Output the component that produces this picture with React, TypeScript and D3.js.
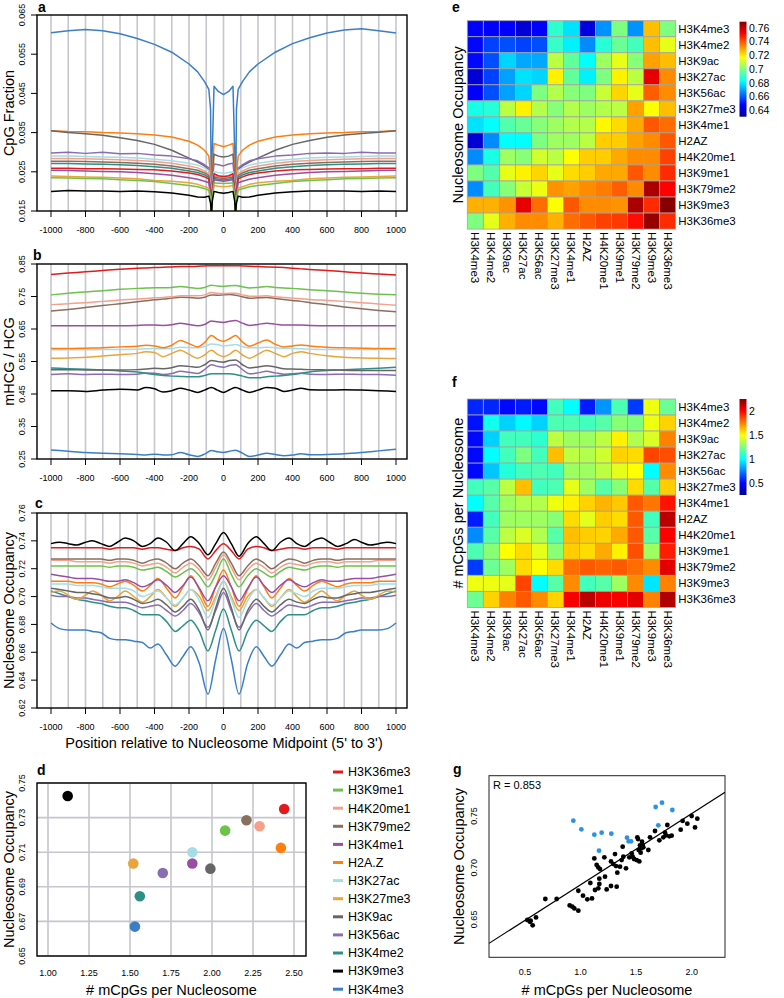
import React from "react";
import * as d3 from "d3";

const FONT = "'Liberation Sans', Arial, Helvetica, sans-serif";

// ---------- series names & colours (panels a-d) ----------
const MARKS = ["H3K36me3","H3K9me1","H4K20me1","H3K79me2","H3K4me1","H2A.Z","H3K27ac","H3K27me3","H3K9ac","H3K56ac","H3K4me2","H3K9me3","H3K4me3"];
const MARK_COLORS = ["#e31a1c","#6cc24a","#f4a08a","#8b6f5e","#984ea3","#ff7f0e","#a5dde6","#eaa43a","#666666","#8a6db1","#2e8f86","#000000","#3a7fc6"];

// ---------- panel a: CpG fraction ----------
const A_POS = [-1000,-900,-800,-700,-600,-500,-400,-300,-200,-150,-110,-85,-75,-70,-65,-55,-30,0,30,55,65,70,75,85,110,150,200,300,400,500,600,700,800,900,1000];
const A_H3K4me3 = [.0605,.0610,.0613,.0610,.0602,.0590,.0575,.0555,.0525,.0505,.0480,.0460,.0410,.0160,.0300,.0468,.0455,.0447,.0455,.0468,.0300,.0160,.0410,.0460,.0480,.0505,.0525,.0555,.0577,.0592,.0604,.0612,.0615,.0610,.0604];
const A_H2AZ = [.0355,.0353,.0352,.0350,.0349,.0347,.0344,.0339,.0328,.0318,.0305,.0290,.0240,.0140,.0250,.0322,.0318,.0314,.0318,.0322,.0250,.0140,.0240,.0290,.0305,.0318,.0328,.0339,.0344,.0347,.0349,.0350,.0352,.0353,.0355];
const A_H3K9ac = [.0355,.0350,.0347,.0343,.0337,.0330,.0320,.0305,.0285,.0275,.0265,.0255,.0220,.0140,.0230,.0295,.0290,.0288,.0290,.0295,.0230,.0140,.0220,.0255,.0265,.0275,.0285,.0305,.0320,.0330,.0338,.0344,.0348,.0351,.0355];
const A_H3K56ac = [.0298,.0300,.0297,.0300,.0296,.0297,.0293,.0290,.0283,.0278,.0268,.0260,.0220,.0140,.0225,.0270,.0268,.0265,.0270,.0272,.0225,.0140,.0220,.0260,.0268,.0278,.0283,.0290,.0293,.0297,.0298,.0297,.0300,.0298,.0298];
const A_H3K27ac = [.0290,.0290,.0289,.0288,.0287,.0285,.0282,.0278,.0272,.0267,.0260,.0253,.0210,.0140,.0215,.0250,.0248,.0246,.0248,.0250,.0215,.0140,.0210,.0253,.0260,.0267,.0272,.0278,.0282,.0285,.0287,.0288,.0289,.0290,.0290];
const A_H4K20me1 = [.0284,.0284,.0283,.0282,.0281,.0279,.0276,.0272,.0265,.0260,.0252,.0245,.0205,.0140,.0210,.0240,.0238,.0236,.0238,.0240,.0210,.0140,.0205,.0245,.0252,.0260,.0265,.0272,.0276,.0279,.0281,.0282,.0283,.0284,.0284];
const A_H3K79me2 = [.0277,.0277,.0276,.0275,.0274,.0272,.0269,.0265,.0258,.0254,.0247,.0240,.0200,.0140,.0205,.0237,.0235,.0233,.0235,.0237,.0205,.0140,.0200,.0240,.0247,.0254,.0258,.0265,.0269,.0272,.0274,.0275,.0276,.0277,.0277];
const A_H3K4me2 = [.0271,.0271,.0270,.0269,.0268,.0266,.0263,.0259,.0252,.0248,.0242,.0236,.0198,.0140,.0202,.0233,.0231,.0229,.0231,.0233,.0202,.0140,.0198,.0236,.0242,.0248,.0252,.0259,.0263,.0266,.0268,.0269,.0270,.0271,.0271];
const A_H3K36me3 = [.0259,.0259,.0258,.0258,.0257,.0256,.0255,.0252,.0247,.0243,.0237,.0232,.0195,.0140,.0200,.0245,.0240,.0238,.0240,.0245,.0200,.0140,.0195,.0232,.0237,.0243,.0247,.0252,.0255,.0256,.0257,.0258,.0258,.0259,.0259];
const A_H3K4me1 = [.0254,.0253,.0252,.0251,.0250,.0248,.0245,.0241,.0235,.0231,.0226,.0222,.0190,.0140,.0195,.0230,.0228,.0226,.0228,.0230,.0195,.0140,.0190,.0222,.0226,.0231,.0235,.0241,.0245,.0248,.0250,.0251,.0252,.0253,.0254];
const A_H3K27me3 = [.0239,.0238,.0237,.0236,.0234,.0232,.0228,.0226,.0222,.0218,.0212,.0208,.0180,.0140,.0185,.0215,.0213,.0212,.0213,.0215,.0185,.0140,.0180,.0208,.0212,.0218,.0222,.0226,.0228,.0232,.0234,.0236,.0237,.0238,.0239];
const A_H3K9me1 = [.0235,.0234,.0233,.0232,.0230,.0228,.0225,.0220,.0215,.0212,.0207,.0203,.0175,.0140,.0180,.0222,.0221,.0220,.0221,.0222,.0180,.0140,.0175,.0203,.0207,.0212,.0215,.0220,.0225,.0228,.0230,.0232,.0233,.0234,.0235];
const A_H3K9me3 = [.0200,.0202,.0201,.0201,.0200,.0201,.0199,.0196,.0190,.0186,.0185,.0188,.0170,.0140,.0175,.0200,.0197,.0195,.0197,.0200,.0175,.0140,.0170,.0188,.0185,.0186,.0190,.0196,.0199,.0201,.0201,.0201,.0200,.0201,.0200];
const A_YTICKS = [0.015,0.025,0.035,0.045,0.055,0.065];

// ---------- panel b: mHCG / HCG ----------
const B_POS = [-1000,-900,-800,-700,-600,-500,-450,-400,-350,-300,-250,-200,-150,-110,-70,-35,0,35,70,110,150,200,250,300,350,400,450,500,600,700,800,900,1000];
const B_H3K36me3 = [.818,.822,.826,.830,.834,.837,.838,.839,.840,.841,.842,.842,.843,.844,.845,.845,.845,.845,.845,.844,.843,.842,.841,.840,.839,.837,.835,.833,.830,.826,.822,.819,.816];
const B_H3K9me1 = [.755,.760,.764,.768,.772,.775,.776,.777,.777,.778,.781,.778,.775,.778,.785,.782,.781,.783,.784,.780,.776,.778,.781,.778,.776,.775,.773,.771,.768,.764,.760,.757,.755];
const B_H4K20me1 = [.725,.728,.731,.735,.739,.742,.744,.746,.747,.749,.752,.752,.752,.755,.762,.760,.759,.760,.760,.755,.751,.751,.752,.749,.747,.745,.743,.741,.738,.735,.731,.727,.723];
const B_H3K79me2 = [.705,.710,.716,.722,.728,.734,.737,.740,.742,.745,.748,.747,.745,.748,.755,.754,.755,.756,.754,.749,.745,.746,.747,.744,.741,.738,.735,.731,.725,.718,.712,.707,.703];
const B_H3K4me1 = [.660,.660,.660,.660,.660,.661,.662,.662,.661,.663,.668,.664,.660,.664,.675,.672,.670,.674,.676,.668,.661,.664,.668,.665,.662,.662,.662,.661,.660,.660,.660,.660,.660];
const B_H2AZ = [.590,.590,.591,.592,.595,.597,.600,.598,.592,.600,.615,.605,.595,.608,.630,.618,.612,.620,.630,.610,.597,.607,.616,.603,.595,.598,.601,.598,.594,.592,.591,.590,.590];
const B_H3K27ac = [.586,.586,.586,.587,.587,.588,.589,.590,.589,.590,.594,.593,.592,.596,.604,.602,.598,.600,.602,.596,.592,.592,.594,.592,.590,.590,.589,.588,.587,.587,.587,.587,.587];
const B_H3K27me3 = [.560,.561,.563,.567,.571,.575,.580,.578,.565,.575,.585,.572,.560,.570,.585,.572,.565,.572,.585,.570,.560,.572,.585,.575,.565,.575,.580,.575,.568,.563,.561,.560,.559];
const B_H3K9ac = [.525,.525,.524,.524,.524,.525,.527,.529,.528,.531,.537,.535,.532,.540,.553,.550,.548,.553,.555,.540,.530,.533,.537,.533,.528,.527,.526,.525,.524,.523,.522,.522,.522];
const B_H3K56ac = [.510,.512,.510,.511,.510,.511,.515,.514,.510,.513,.520,.517,.513,.525,.540,.535,.532,.538,.540,.525,.512,.515,.520,.515,.511,.512,.514,.511,.510,.511,.510,.510,.508];
const B_H3K4me2 = [.530,.528,.526,.524,.521,.518,.514,.510,.507,.505,.504,.503,.503,.507,.512,.512,.512,.512,.510,.505,.500,.500,.503,.505,.507,.510,.514,.518,.522,.525,.527,.529,.532];
const B_H3K9me3 = [.460,.460,.458,.462,.465,.462,.470,.466,.456,.460,.468,.462,.455,.462,.470,.462,.455,.463,.470,.462,.455,.462,.470,.468,.458,.462,.468,.463,.462,.463,.462,.460,.458];
const B_H3K4me3 = [.278,.274,.270,.268,.266,.264,.262,.265,.262,.263,.270,.263,.258,.265,.276,.272,.270,.274,.277,.268,.258,.262,.268,.264,.260,.262,.266,.263,.264,.266,.270,.275,.280];
const B_YTICKS = [0.25,0.35,0.45,0.55,0.65,0.75,0.85];

// ---------- panel c: nucleosome occupancy profile ----------
const C_POS = [-1000,-950,-900,-850,-800,-760,-710,-660,-615,-570,-520,-470,-425,-380,-330,-280,-235,-190,-140,-90,-45,0,45,90,140,190,235,280,330,380,425,470,520,570,615,660,710,760,800,850,900,950,1000];
const C_H3K9me3 = [.738,.739,.738,.737,.739,.740,.738,.736,.739,.742,.740,.736,.738,.742,.739,.733,.738,.743,.738,.730,.738,.746,.738,.729,.738,.743,.738,.733,.739,.742,.738,.736,.740,.742,.739,.736,.738,.741,.739,.737,.738,.739,.738];
const C_H3K36me3 = [.735,.735,.735,.735,.735,.735,.735,.734,.735,.735,.735,.734,.735,.735,.734,.733,.735,.736,.734,.727,.733,.738,.733,.727,.734,.736,.735,.733,.734,.735,.735,.734,.735,.735,.735,.734,.735,.735,.735,.735,.735,.735,.735];
const C_H3K79me2 = [.727,.727,.727,.727,.727,.727,.727,.726,.727,.727,.726,.724,.726,.727,.724,.720,.724,.727,.722,.715,.724,.732,.724,.715,.722,.727,.724,.720,.724,.727,.726,.724,.726,.727,.727,.726,.727,.727,.727,.727,.727,.727,.727];
const C_H4K20me1 = [.726,.726,.726,.725,.725,.725,.725,.724,.725,.725,.724,.722,.723,.724,.721,.717,.721,.724,.719,.712,.721,.730,.721,.712,.719,.724,.721,.717,.721,.724,.723,.722,.724,.725,.725,.724,.725,.725,.725,.725,.726,.726,.726];
const C_H3K9me1 = [.722,.722,.722,.722,.722,.722,.722,.721,.722,.722,.721,.719,.720,.721,.718,.714,.717,.720,.715,.707,.716,.727,.716,.707,.715,.720,.717,.714,.718,.721,.720,.719,.721,.722,.722,.721,.722,.722,.722,.722,.722,.722,.722];
const C_H3K4me1 = [.716,.715,.714,.713,.713,.713,.712,.711,.711,.712,.710,.707,.709,.712,.708,.703,.708,.714,.706,.697,.707,.715,.707,.697,.706,.714,.708,.703,.708,.712,.709,.707,.710,.712,.711,.711,.712,.713,.713,.713,.714,.715,.716];
const C_H2AZ = [.711,.711,.711,.710,.710,.710,.709,.707,.709,.711,.708,.704,.708,.713,.706,.699,.707,.715,.705,.693,.707,.719,.707,.693,.705,.715,.707,.699,.706,.713,.708,.704,.708,.711,.709,.707,.709,.710,.710,.710,.711,.711,.711];
const C_H3K27ac = [.709,.709,.709,.708,.708,.708,.707,.706,.706,.706,.704,.700,.702,.704,.699,.694,.699,.705,.697,.685,.698,.711,.698,.685,.697,.705,.699,.694,.699,.704,.702,.700,.704,.706,.706,.706,.707,.708,.708,.708,.709,.709,.709];
const C_H3K9ac = [.706,.705,.704,.703,.703,.702,.701,.699,.699,.700,.698,.695,.696,.698,.694,.689,.693,.698,.690,.676,.692,.706,.692,.676,.690,.698,.693,.689,.694,.698,.696,.695,.698,.700,.699,.699,.701,.702,.703,.703,.704,.705,.706];
const C_H3K27me3 = [.703,.704,.701,.698,.701,.704,.701,.697,.700,.704,.700,.696,.700,.705,.699,.693,.699,.705,.700,.690,.700,.711,.700,.690,.700,.705,.699,.693,.699,.705,.700,.696,.700,.704,.700,.697,.701,.704,.701,.698,.701,.704,.703];
const C_H3K56ac = [.701,.700,.700,.699,.699,.698,.697,.696,.696,.696,.694,.692,.693,.694,.690,.686,.690,.695,.688,.678,.690,.703,.690,.678,.688,.695,.690,.686,.690,.694,.693,.692,.694,.696,.696,.696,.697,.698,.699,.699,.700,.700,.701];
const C_H3K4me2 = [.704,.702,.700,.698,.697,.696,.695,.693,.692,.692,.690,.687,.687,.687,.682,.675,.679,.683,.675,.661,.676,.691,.676,.661,.675,.683,.679,.675,.682,.687,.687,.687,.690,.692,.692,.693,.695,.696,.697,.698,.700,.702,.704];
const C_H3K4me3 = [.681,.677,.676,.676,.676,.675,.674,.670,.669,.669,.668,.667,.663,.666,.658,.650,.657,.664,.652,.630,.655,.677,.655,.630,.652,.664,.657,.650,.658,.666,.663,.667,.668,.669,.669,.670,.674,.675,.676,.676,.676,.677,.681];
const C_YTICKS = [0.62,0.64,0.66,0.68,0.70,0.72,0.74,0.76];

const X_TICKS = [-1000,-800,-600,-400,-200,0,200,400,600,800,1000];
const X_GRID = d3.range(-1000, 1001, 100);

// ---------- panel d ----------
const D_MCPG = [2.44,2.08,2.29,2.21,1.88,2.42,1.88,1.52,1.99,1.70,1.56,1.12,1.53];
const D_OCC = [0.735,0.7225,0.725,0.7285,0.7035,0.7125,0.710,0.7035,0.7005,0.698,0.6845,0.7425,0.667];
const D_XTICKS = [1.00,1.25,1.50,1.75,2.00,2.25,2.50];
const D_YTICKS = [0.65,0.67,0.69,0.71,0.73,0.75];

// ---------- panels e, f: heatmaps ----------
const HM_LABELS = ["H3K4me3","H3K4me2","H3K9ac","H3K27ac","H3K56ac","H3K27me3","H3K4me1","H2AZ","H4K20me1","H3K9me1","H3K79me2","H3K9me3","H3K36me3"];
const E_VALUES = [
  [0.648,0.648,0.648,0.642,0.648,0.689,0.679,0.643,0.668,0.700,0.668,0.726,0.700],
  [0.649,0.657,0.659,0.657,0.659,0.690,0.681,0.667,0.688,0.697,0.692,0.726,0.714],
  [0.649,0.659,0.677,0.671,0.671,0.708,0.696,0.683,0.704,0.714,0.701,0.730,0.726],
  [0.642,0.657,0.670,0.679,0.677,0.719,0.696,0.681,0.700,0.719,0.708,0.755,0.733],
  [0.648,0.659,0.670,0.677,0.700,0.707,0.701,0.700,0.710,0.723,0.714,0.739,0.733],
  [0.686,0.688,0.708,0.719,0.707,0.701,0.707,0.704,0.707,0.708,0.730,0.717,0.726],
  [0.679,0.683,0.694,0.697,0.701,0.704,0.707,0.707,0.718,0.722,0.729,0.740,0.737],
  [0.642,0.667,0.683,0.683,0.700,0.704,0.704,0.708,0.724,0.724,0.730,0.733,0.740],
  [0.667,0.686,0.704,0.701,0.711,0.708,0.717,0.724,0.724,0.729,0.733,0.733,0.743],
  [0.700,0.694,0.714,0.719,0.723,0.714,0.722,0.724,0.729,0.729,0.740,0.733,0.746],
  [0.667,0.692,0.701,0.710,0.715,0.732,0.730,0.733,0.735,0.739,0.733,0.763,0.752],
  [0.728,0.728,0.732,0.755,0.737,0.717,0.740,0.733,0.733,0.732,0.763,0.746,0.768],
  [0.700,0.714,0.728,0.733,0.733,0.728,0.737,0.740,0.743,0.744,0.750,0.766,0.746],
];
const E_RANGE = [0.631, 0.769];
const E_TICKS = [0.64,0.66,0.68,0.70,0.72,0.74,0.76];
const E_TICK_LABELS = ["0.64","0.66","0.68","0.7","0.72","0.74","0.76"];

const F_VALUES = [
  [0.58,0.58,0.52,0.56,0.52,1.14,1.01,0.56,0.80,1.16,0.62,1.48,1.22],
  [0.54,1.04,0.92,1.00,0.92,1.16,1.16,1.14,1.18,1.28,1.26,1.48,1.60],
  [0.52,0.92,1.14,1.14,1.10,1.38,1.32,1.32,1.38,1.54,1.36,1.44,1.76],
  [0.52,1.01,1.14,1.26,1.14,1.64,1.38,1.36,1.42,1.60,1.58,1.88,1.86],
  [0.52,0.90,1.08,1.14,1.16,1.14,1.32,1.32,1.38,1.46,1.51,1.01,1.74],
  [1.14,1.18,1.38,1.64,1.14,1.16,1.46,1.32,1.18,1.28,1.58,1.18,1.61],
  [1.01,1.18,1.32,1.36,1.36,1.48,1.54,1.60,1.66,1.62,1.84,1.78,1.98],
  [0.56,1.14,1.32,1.32,1.32,1.28,1.58,1.46,1.61,1.58,1.84,1.14,2.15],
  [0.78,1.18,1.38,1.44,1.36,1.18,1.64,1.61,1.60,1.68,1.84,1.18,2.02],
  [1.16,1.28,1.51,1.58,1.46,1.28,1.61,1.58,1.68,1.54,1.86,1.32,1.96],
  [0.62,1.22,1.32,1.58,1.51,1.58,1.80,1.84,1.82,1.84,1.80,1.74,2.07],
  [1.48,1.48,1.46,1.88,1.01,1.18,1.74,1.14,1.18,1.32,1.74,0.96,1.76],
  [1.22,1.60,1.76,1.84,1.74,1.60,2.03,2.15,2.05,2.03,2.07,1.76,2.17],
];
const F_RANGE = [0.255, 2.266];
const F_TICKS = [0.5,1,1.5,2];
const F_TICK_LABELS = ["0.5","1","1.5","2"];

// ---------- panel g ----------
const G_BLACK_X = [0.521,0.545,0.551,0.569,0.599,0.683,0.785,0.902,0.926,0.944,0.980,0.980,1.022,1.061,1.103,1.088,1.124,1.130,1.145,1.160,1.175,1.160,1.169,1.169,1.214,1.220,1.235,1.274,1.274,1.295,1.310,1.319,1.325,1.331,1.355,1.370,1.385,1.379,1.409,1.439,1.460,1.469,1.481,1.505,1.511,1.517,1.523,1.529,1.535,1.541,1.547,1.553,1.559,1.565,1.610,1.625,1.670,1.709,1.745,1.760,1.769,1.781,1.799,1.820,1.901,1.919,1.961,2.000,2.030,2.051];
const G_BLACK_Y = [0.6494,0.6477,0.6487,0.6442,0.6519,0.6697,0.6697,0.6635,0.6623,0.6606,0.6584,0.6777,0.6729,0.6694,0.6703,0.6852,0.7090,0.6784,0.7026,0.7003,0.6987,0.6800,0.6842,0.6894,0.7100,0.6913,0.6790,0.6823,0.7061,0.7035,0.7132,0.7016,0.6816,0.6952,0.7010,0.7074,0.7106,0.7203,0.6994,0.7100,0.7139,0.7106,0.7084,0.7074,0.7294,0.7277,0.7171,0.7061,0.7216,0.7145,0.7187,0.7252,0.7219,0.7197,0.7171,0.7294,0.7355,0.7265,0.7294,0.7339,0.7313,0.7413,0.7303,0.7310,0.7368,0.7452,0.7426,0.7500,0.7390,0.7474];
const G_BLUE_X = [0.935,1.007,1.124,1.190,1.277,1.166,1.418,1.433,1.454,1.676,1.733,1.700,1.826];
const G_BLUE_Y = [0.7455,0.7371,0.7319,0.7339,0.7329,0.7165,0.7290,0.7255,0.7255,0.7587,0.7629,0.7410,0.7558];
const G_FIT_INTERCEPT = 0.6147;
const G_FIT_SLOPE = 0.0688;
const G_R = 0.853;
const G_XTICKS = [0.5,1.0,1.5,2.0];
const G_YTICKS = [0.65,0.70,0.75];

// ---------- helpers ----------
const jet = d3.scaleLinear<string>()
  .domain([0, 0.125, 0.375, 0.625, 0.875, 1])
  .range(["#00008f", "#0000ff", "#00ffff", "#ffff00", "#ff0000", "#800000"])
  .interpolate(d3.interpolateRgb)
  .clamp(true);

type LPProps = {
  id: string; top: number; bottom: number; yDomain: [number, number]; yTicks: number[]; fmt: string;
  pos: number[]; series: number[][]; colors: string[]; letter: string; letterX: number; letterY: number;
  ylabel: string; curve: d3.CurveFactory;
};

function LinePanel(p: LPProps) {
  const L = 37, R = 407;
  const x = d3.scaleLinear().domain([-1000, 1000]).range([51, 396]);
  const y = d3.scaleLinear().domain(p.yDomain).range([p.bottom, p.top]);
  const fmt = d3.format(p.fmt);
  const line = d3.line<number>().x((_, i) => x(p.pos[i])).y((d) => y(d)).curve(p.curve);
  const clip = `clip-${p.id}`;
  const midY = (p.top + p.bottom) / 2;
  return (
    <g>
      <defs>
        <clipPath id={clip}><rect x={L} y={p.top} width={R - L} height={p.bottom - p.top} /></clipPath>
      </defs>
      {X_GRID.map((g) => (
        <line key={g} x1={x(g)} x2={x(g)} y1={p.top} y2={p.bottom} stroke="#c6c6ce" strokeWidth={1.6} />
      ))}
      <g clipPath={`url(#${clip})`}>
        {p.series.map((s, i) => (
          <path key={i} d={line(s) || ""} fill="none" stroke={p.colors[i]} strokeWidth={1.5} strokeLinejoin="round" />
        ))}
      </g>
      <rect x={L} y={p.top} width={R - L} height={p.bottom - p.top} fill="none" stroke="#000" strokeWidth={1.4} />
      {X_TICKS.map((t) => (
        <g key={t}>
          <line x1={x(t)} x2={x(t)} y1={p.bottom} y2={p.bottom + 6} stroke="#000" strokeWidth={1} />
          <text x={x(t)} y={p.bottom + 22} fontSize={9} textAnchor="middle" fontFamily={FONT}>{t}</text>
        </g>
      ))}
      {p.yTicks.map((t) => (
        <g key={t}>
          <line x1={L - 6} x2={L} y1={y(t)} y2={y(t)} stroke="#000" strokeWidth={1} />
          <text transform={`translate(22,${y(t)}) rotate(-90)`} dy="0.35em" fontSize={9} textAnchor="middle" fontFamily={FONT}>{fmt(t)}</text>
        </g>
      ))}
      <text transform={`translate(9,${midY}) rotate(-90)`} dy="0.35em" fontSize={14.5} textAnchor="middle" fontFamily={FONT}>{p.ylabel}</text>
      <text x={p.letterX} y={p.letterY} fontSize={14} fontWeight="bold" fontFamily={FONT}>{p.letter}</text>
    </g>
  );
}

type HMProps = {
  id: string; top: number; values: number[][]; range: number[]; ticks: number[]; tickLabels: string[];
  barTop: number; barBottom: number; ylabel: string; letter: string; letterY: number;
};

function Heatmap(p: HMProps) {
  const left = 467.3, cell = 16.03;
  const n = HM_LABELS.length;
  const xb = d3.scaleBand<number>().domain(d3.range(n)).range([left, left + cell * n]);
  const yb = d3.scaleBand<number>().domain(d3.range(n)).range([p.top, p.top + cell * n]);
  const norm = d3.scaleLinear().domain(p.range).range([0, 1]);
  const barY = d3.scaleLinear().domain(p.range).range([p.barBottom, p.barTop]);
  const gid = `grad-${p.id}`;
  const stops = [0, 0.125, 0.375, 0.625, 0.875, 1];
  const gridBottom = p.top + cell * n;
  return (
    <g>
      <defs>
        <linearGradient id={gid} x1="0" y1="1" x2="0" y2="0">
          {stops.map((s) => <stop key={s} offset={s} stopColor={jet(s)} />)}
        </linearGradient>
      </defs>
      {p.values.map((row, r) =>
        row.map((v, c) => (
          <rect key={`${r}-${c}`} x={xb(c)} y={yb(r)} width={xb.bandwidth()} height={yb.bandwidth()}
            fill={jet(norm(v))} stroke="#a3a3a3" strokeWidth={0.8} />
        ))
      )}
      {HM_LABELS.map((lab, r) => (
        <text key={`r${lab}`} x={left + cell * n + 2.5} y={(yb(r) || 0) + cell / 2} dy="0.35em" fontSize={11.5} fontFamily={FONT}>{lab}</text>
      ))}
      {HM_LABELS.map((lab, c) => (
        <text key={`c${lab}`} transform={`translate(${(xb(c) || 0) + cell / 2},${gridBottom + 3}) rotate(90)`} dy="0.35em" fontSize={11.5} fontFamily={FONT}>{lab}</text>
      ))}
      <rect x={739.5} y={p.barTop} width={7} height={p.barBottom - p.barTop} fill={`url(#${gid})`} />
      {p.ticks.map((t, i) => (
        <text key={t} x={749} y={barY(t)} dy="0.35em" fontSize={10.5} fontFamily={FONT}>{p.tickLabels[i]}</text>
      ))}
      <text transform={`translate(458,${(p.top + gridBottom) / 2}) rotate(-90)`} dy="0.35em" fontSize={14.5} textAnchor="middle" fontFamily={FONT}>{p.ylabel}</text>
      <text x={452} y={p.letterY} fontSize={14} fontWeight="bold" fontFamily={FONT}>{p.letter}</text>
    </g>
  );
}

function PanelD() {
  const L = 37, R = 306, T = 783, B = 956;
  const x = d3.scaleLinear().domain([1, 2.5]).range([48, 294]);
  const y = d3.scaleLinear().domain([0.65, 0.75]).range([B, T]);
  const f2 = d3.format(".2f");
  return (
    <g>
      {D_XTICKS.map((t) => <line key={`gx${t}`} x1={x(t)} x2={x(t)} y1={T} y2={B} stroke="#c6c6ce" strokeWidth={1.6} />)}
      {D_YTICKS.map((t) => <line key={`gy${t}`} x1={L} x2={R} y1={y(t)} y2={y(t)} stroke="#c6c6ce" strokeWidth={1.6} />)}
      {D_MCPG.map((v, i) => (
        <circle key={i} cx={x(v)} cy={y(D_OCC[i])} r={5.3} fill={MARK_COLORS[i]} />
      ))}
      <rect x={L} y={T} width={R - L} height={B - T} fill="none" stroke="#000" strokeWidth={1.4} />
      {D_XTICKS.map((t) => (
        <text key={`tx${t}`} x={x(t)} y={B + 20} fontSize={9} textAnchor="middle" fontFamily={FONT}>{f2(t)}</text>
      ))}
      {D_YTICKS.map((t) => (
        <text key={`ty${t}`} transform={`translate(22,${y(t)}) rotate(-90)`} dy="0.35em" fontSize={9} textAnchor="middle" fontFamily={FONT}>{f2(t)}</text>
      ))}
      <text x={(L + R) / 2} y={995} fontSize={14.5} textAnchor="middle" fontFamily={FONT}># mCpGs per Nucleosome</text>
      <text transform={`translate(9,${(T + B) / 2}) rotate(-90)`} dy="0.35em" fontSize={14.5} textAnchor="middle" fontFamily={FONT}>Nucleosome Occupancy</text>
      <text x={37} y={775} fontSize={14} fontWeight="bold" fontFamily={FONT}>d</text>
      {MARKS.map((m, i) => {
        const ly = 772 + i * 18.1;
        return (
          <g key={m}>
            <line x1={333} x2={343} y1={ly} y2={ly} stroke={MARK_COLORS[i]} strokeWidth={3} />
            <text x={348} y={ly} dy="0.35em" fontSize={12.5} fontFamily={FONT}>{m}</text>
          </g>
        );
      })}
    </g>
  );
}

function PanelG() {
  const L = 489, R = 725, T = 775.7, B = 957.3;
  const x = d3.scaleLinear().domain([0.176, 2.30]).range([L, R]);
  const y = d3.scaleLinear().domain([0.6133, 0.789]).range([B, T]);
  const xd = x.domain();
  return (
    <g>
      <defs>
        <clipPath id="clip-g"><rect x={L} y={T} width={R - L} height={B - T} /></clipPath>
      </defs>
      <rect x={L} y={T} width={R - L} height={B - T} fill="none" stroke="#222" strokeWidth={1} />
      <g clipPath="url(#clip-g)">
        <line x1={x(xd[0])} y1={y(G_FIT_INTERCEPT + G_FIT_SLOPE * xd[0])} x2={x(xd[1])} y2={y(G_FIT_INTERCEPT + G_FIT_SLOPE * xd[1])} stroke="#000" strokeWidth={1.2} />
      </g>
      {G_BLUE_X.map((v, i) => <circle key={`b${i}`} cx={x(v)} cy={y(G_BLUE_Y[i])} r={2.4} fill="#2b93e3" />)}
      {G_BLACK_X.map((v, i) => <circle key={`k${i}`} cx={x(v)} cy={y(G_BLACK_Y[i])} r={2.4} fill="#000" />)}
      {G_XTICKS.map((t) => (
        <text key={`x${t}`} x={x(t)} y={975} fontSize={9} textAnchor="middle" fontFamily={FONT}>{d3.format(".1f")(t)}</text>
      ))}
      {G_YTICKS.map((t) => (
        <text key={`y${t}`} transform={`translate(474,${y(t)}) rotate(-90)`} dy="0.35em" fontSize={9} textAnchor="middle" fontFamily={FONT}>{d3.format(".2f")(t)}</text>
      ))}
      <text x={493} y={789} fontSize={11} fontFamily={FONT}>{`R = ${G_R}`}</text>
      <text x={(L + R) / 2} y={995} fontSize={14.5} textAnchor="middle" fontFamily={FONT}># mCpGs per Nucleosome</text>
      <text transform={`translate(459,${(T + B) / 2}) rotate(-90)`} dy="0.35em" fontSize={14.5} textAnchor="middle" fontFamily={FONT}>Nucleosome Occupancy</text>
      <text x={453} y={774} fontSize={14} fontWeight="bold" fontFamily={FONT}>g</text>
    </g>
  );
}

export default function App() {
  const aSeries = [A_H3K4me3, A_H2AZ, A_H3K9ac, A_H3K56ac, A_H3K27ac, A_H4K20me1, A_H3K79me2, A_H3K4me2, A_H3K36me3, A_H3K4me1, A_H3K27me3, A_H3K9me1, A_H3K9me3];
  const aNames = ["H3K4me3","H2A.Z","H3K9ac","H3K56ac","H3K27ac","H4K20me1","H3K79me2","H3K4me2","H3K36me3","H3K4me1","H3K27me3","H3K9me1","H3K9me3"];
  const bSeries = [B_H3K4me3, B_H3K9me3, B_H3K56ac, B_H3K4me2, B_H3K9ac, B_H3K27me3, B_H3K27ac, B_H2AZ, B_H3K4me1, B_H3K79me2, B_H4K20me1, B_H3K9me1, B_H3K36me3];
  const bNames = ["H3K4me3","H3K9me3","H3K56ac","H3K4me2","H3K9ac","H3K27me3","H3K27ac","H2A.Z","H3K4me1","H3K79me2","H4K20me1","H3K9me1","H3K36me3"];
  const cSeries = [C_H3K4me3, C_H3K4me2, C_H3K56ac, C_H3K27me3, C_H3K9ac, C_H3K27ac, C_H2AZ, C_H3K4me1, C_H3K9me1, C_H4K20me1, C_H3K79me2, C_H3K36me3, C_H3K9me3];
  const cNames = ["H3K4me3","H3K4me2","H3K56ac","H3K27me3","H3K9ac","H3K27ac","H2A.Z","H3K4me1","H3K9me1","H4K20me1","H3K79me2","H3K36me3","H3K9me3"];
  const colorOf = (n: string) => MARK_COLORS[MARKS.indexOf(n)];
  return (
    <svg width={784} height={998} style={{ position: "absolute", left: 0, top: 0, background: "#fff" }} fontFamily={FONT}>
      <rect width={784} height={998} fill="#fff" />
      <LinePanel id="a" top={15} bottom={211} yDomain={[0.015, 0.065]} yTicks={A_YTICKS} fmt=".3f" pos={A_POS}
        series={aSeries} colors={aNames.map(colorOf)} letter="a" letterX={38} letterY={12} ylabel="CpG Fraction" curve={d3.curveLinear} />
      <LinePanel id="b" top={264} bottom={459} yDomain={[0.25, 0.85]} yTicks={B_YTICKS} fmt=".2f" pos={B_POS}
        series={bSeries} colors={bNames.map(colorOf)} letter="b" letterX={33} letterY={260} ylabel="mHCG / HCG" curve={d3.curveMonotoneX} />
      <LinePanel id="c" top={513} bottom={708} yDomain={[0.62, 0.76]} yTicks={C_YTICKS} fmt=".2f" pos={C_POS}
        series={cSeries} colors={cNames.map(colorOf)} letter="c" letterX={35} letterY={508} ylabel="Nucleosome Occupancy" curve={d3.curveMonotoneX} />
      <text x={224} y={748} fontSize={14.5} textAnchor="middle" fontFamily={FONT}>Position relative to Nucleosome Midpoint (5' to 3')</text>
      <PanelD />
      <Heatmap id="e" top={20.7} values={E_VALUES} range={E_RANGE} ticks={E_TICKS} tickLabels={E_TICK_LABELS}
        barTop={21.7} barBottom={116.7} ylabel="Nucleosome Occupancy" letter="e" letterY={12} />
      <Heatmap id="f" top={399} values={F_VALUES} range={F_RANGE} ticks={F_TICKS} tickLabels={F_TICK_LABELS}
        barTop={399} barBottom={495} ylabel="# mCpGs per Nucleosome" letter="f" letterY={387} />
      <PanelG />
    </svg>
  );
}
